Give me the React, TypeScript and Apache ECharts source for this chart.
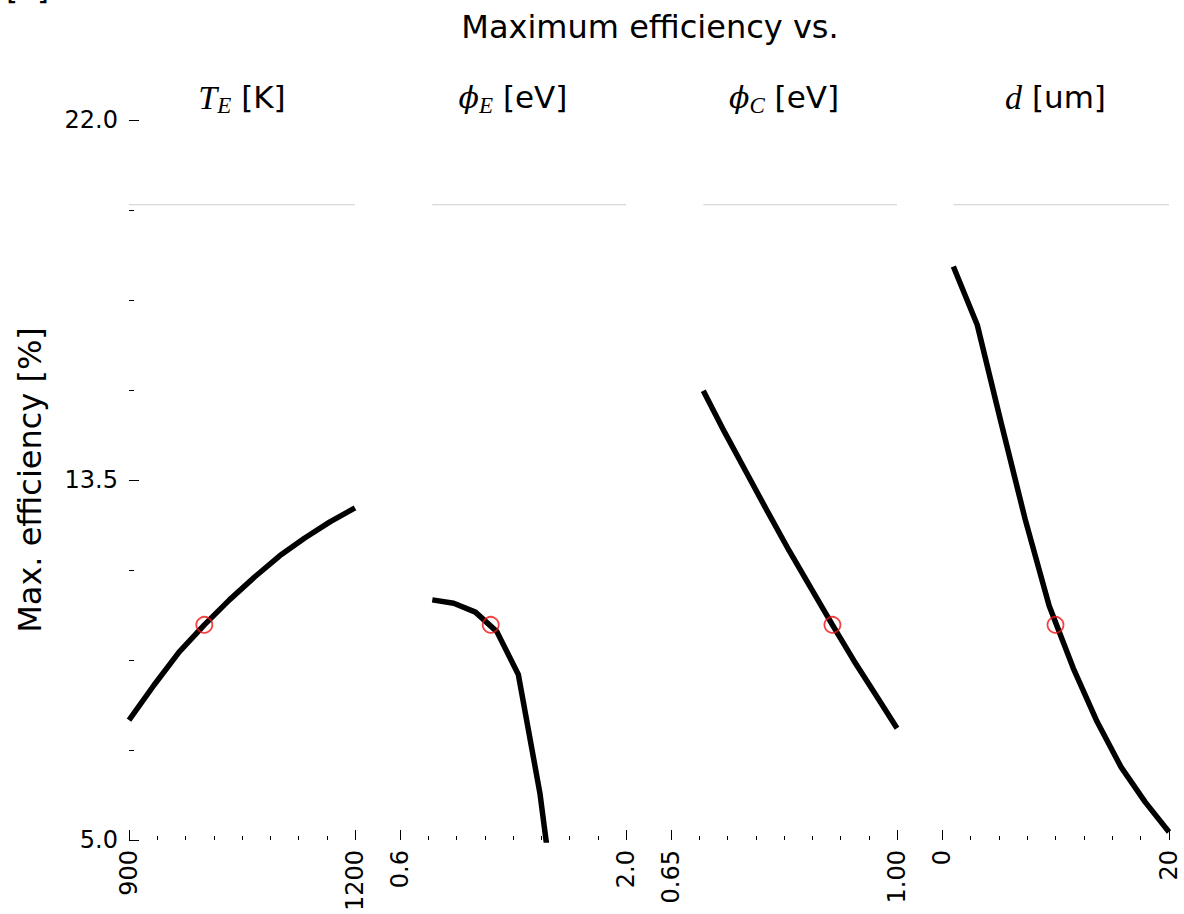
import React, { useEffect, useRef } from 'react';
import * as echarts from 'echarts';

// ---- axes ----
const axisMin = [900, 0.6, 0.65, 0];
const axisMax = [1200, 2.0, 1.0, 20];
const axisTickLabels = [['900', '1200'], ['0.6', '2.0'], ['0.65', '1.00'], ['0', '20']];
const yMin = 5.0;
const yMax = 22.0;
const yTickValues = [5.0, 13.5, 22.0];
const yMinorTicks = [7.125, 9.25, 11.375, 15.625, 17.75, 19.875];

// ---- data: max efficiency vs parameter ----
const teX = [900, 933.3, 966.7, 1000, 1033.3, 1066.7, 1100, 1133.3, 1166.7, 1200];
const teY = [7.83, 8.66, 9.44, 10.08, 10.67, 11.21, 11.71, 12.13, 12.51, 12.84];
const phiEX = [0.8, 0.933, 1.067, 1.2, 1.333, 1.467, 1.6];
const phiEY = [10.67, 10.59, 10.38, 9.92, 8.91, 6.1, 2.2];
const phiCX = [0.7, 0.733, 0.767, 0.8, 0.833, 0.867, 0.9, 0.933, 0.967, 1.0];
const phiCY = [15.61, 14.63, 13.67, 12.74, 11.83, 10.94, 10.08, 9.24, 8.43, 7.64];
const dX = [1, 3.11, 5.22, 7.33, 9.44, 11.56, 13.67, 15.78, 17.89, 20];
const dY = [18.54, 17.16, 14.84, 12.57, 10.53, 9.06, 7.79, 6.72, 5.9, 5.19];

// operating point (red circles)
const optX = [1000, 1.162, 0.9, 10];
const optY = [10.08, 10.08, 10.08, 10.08];

// light reference line
const refLevel = 20.0;
const refRangeX = [[900, 1200], [0.8, 2.0], [0.7, 1.0], [1, 20]];

const seriesX = [teX, phiEX, phiCX, dX];
const seriesY = [teY, phiEY, phiCY, dY];

const gridLeft = [129, 400, 671, 942];
const gridWidth = [226, 226, 226, 227];
const gridTop = 120;
const gridHeight = 720;

const SANS = 'DejaVu Sans';
const SERIF = 'Liberation Serif';

function minorTicks(min: number, max: number) {
  const out: number[] = [];
  for (let k = 1; k < 8; k++) out.push(min + ((max - min) * k) / 8);
  return out;
}

export default function App() {
  const ref = useRef<HTMLDivElement>(null);
  useEffect(() => {
    if (!ref.current) return;
    const chart = echarts.init(ref.current, null, { renderer: 'svg' });

    const grid: any[] = [];
    const xAxis: any[] = [];
    const yAxis: any[] = [];
    const series: any[] = [];

    for (let i = 0; i < 4; i++) {
      grid.push({
        left: gridLeft[i],
        width: gridWidth[i],
        top: gridTop,
        height: gridHeight,
        outerBoundsMode: 'none',
        containLabel: false,
      });
      const min = axisMin[i];
      const max = axisMax[i];
      const labels = axisTickLabels[i];
      xAxis.push({
        type: 'value',
        gridIndex: i,
        min,
        max,
        position: 'bottom',
        axisLine: { show: false },
        splitLine: { show: false },
        axisTick: {
          show: true,
          inside: true,
          length: 10,
          customValues: [min, max],
          lineStyle: { color: '#000', width: 1 },
        },
        axisLabel: {
          show: true,
          customValues: [min, max],
          formatter: (v: number) => (Math.abs(v - min) < 1e-9 ? labels[0] : labels[1]),
          rotate: 90,
          margin: 10,
          fontSize: 24,
          fontFamily: SANS,
          color: '#000',
        },
      });
      xAxis.push({
        type: 'value',
        gridIndex: i,
        min,
        max,
        position: 'bottom',
        axisLine: { show: false },
        splitLine: { show: false },
        axisLabel: { show: false },
        axisTick: {
          show: true,
          inside: true,
          length: 4,
          customValues: minorTicks(min, max),
          lineStyle: { color: '#000', width: 1 },
        },
      });
      yAxis.push({
        type: 'value',
        gridIndex: i,
        min: yMin,
        max: yMax,
        show: i === 0,
        position: 'left',
        axisLine: { show: false },
        splitLine: { show: false },
        axisTick: {
          show: true,
          inside: true,
          length: 10,
          customValues: yTickValues,
          lineStyle: { color: '#000', width: 1 },
        },
        axisLabel: {
          show: true,
          customValues: yTickValues,
          formatter: (v: number) => v.toFixed(1),
          margin: 11,
          fontSize: 24,
          fontFamily: SANS,
          color: '#000',
        },
      });
    }
    yAxis.push({
      type: 'value',
      gridIndex: 0,
      min: yMin,
      max: yMax,
      position: 'left',
      axisLine: { show: false },
      splitLine: { show: false },
      axisLabel: { show: false },
      axisTick: {
        show: true,
        inside: true,
        length: 5,
        customValues: yMinorTicks,
        lineStyle: { color: '#000', width: 1 },
      },
    });

    for (let i = 0; i < 4; i++) {
      series.push({
        type: 'line',
        xAxisIndex: i * 2,
        yAxisIndex: i,
        data: refRangeX[i].map((x) => [x, refLevel]),
        symbol: 'none',
        lineStyle: { color: '#cfcfcf', width: 1 },
        z: 2,
        silent: true,
      });
      series.push({
        type: 'line',
        xAxisIndex: i * 2,
        yAxisIndex: i,
        data: seriesX[i].map((x, k) => [x, seriesY[i][k]]),
        symbol: 'none',
        clip: true,
        lineStyle: { color: '#000', width: 5.5 },
        z: 3,
      });
      series.push({
        type: 'scatter',
        xAxisIndex: i * 2,
        yAxisIndex: i,
        data: [[optX[i], optY[i]]],
        symbol: 'circle',
        symbolSize: 16,
        itemStyle: { color: 'rgba(0,0,0,0)', borderColor: '#f01010', borderWidth: 1.8 },
        z: 4,
      });
    }

    const mathRich = (size: number) => ({
      m: { fontFamily: SERIF, fontStyle: 'italic', fontSize: 34, lineHeight: 40, fill: '#000' },
      p: { fontFamily: 'DejaVu Serif', fontStyle: 'italic', fontSize: 30, lineHeight: 40, fill: '#000' },
      s: { fontFamily: SERIF, fontStyle: 'italic', fontSize: 23, lineHeight: 22, verticalAlign: 'bottom', fill: '#000' },
      n: { fontFamily: SANS, fontSize: size, lineHeight: 40, fill: '#000' },
    });
    const subtitles = [
      '{m|T}{s|E}{n| [K]}',
      '{p|ϕ}{s|E}{n| [eV]}',
      '{p|ϕ}{s|C}{n| [eV]}',
      '{m|d}{n| [um]}',
    ];

    const graphic: any[] = [
      {
        type: 'text',
        x: 650,
        y: 27,
        style: {
          text: 'Maximum efficiency vs.',
          fontSize: 32,
          fontFamily: SANS,
          fill: '#000',
          align: 'center',
          verticalAlign: 'middle',
          textAlign: 'center',
          textVerticalAlign: 'middle',
        },
      },
      {
        type: 'text',
        x: 6,
        y: -12,
        style: {
          text: '[a]',
          fontSize: 31,
          fontFamily: SANS,
          fill: '#000',
          align: 'left',
          verticalAlign: 'middle',
          textAlign: 'left',
          textVerticalAlign: 'middle',
        },
      },
      {
        type: 'text',
        x: 30,
        y: 480,
        rotation: Math.PI / 2,
        style: {
          text: 'Max. efficiency [%]',
          fontSize: 32,
          fontFamily: SANS,
          fill: '#000',
          align: 'center',
          verticalAlign: 'middle',
          textAlign: 'center',
          textVerticalAlign: 'middle',
        },
      },
    ];
    for (let i = 0; i < 4; i++) {
      graphic.push({
        type: 'text',
        x: gridLeft[i] + gridWidth[i] / 2,
        y: 97,
        style: {
          text: subtitles[i],
          rich: mathRich(31),
          align: 'center',
          verticalAlign: 'middle',
          textAlign: 'center',
          textVerticalAlign: 'middle',
        },
      });
    }

    chart.setOption({
      animation: false,
      backgroundColor: '#fff',
      grid,
      xAxis,
      yAxis,
      series,
      graphic,
    });
    return () => chart.dispose();
  }, []);

  return (
    <div
      ref={ref}
      style={{ position: 'absolute', left: 0, top: 0, width: 1184, height: 914 }}
    />
  );
}
